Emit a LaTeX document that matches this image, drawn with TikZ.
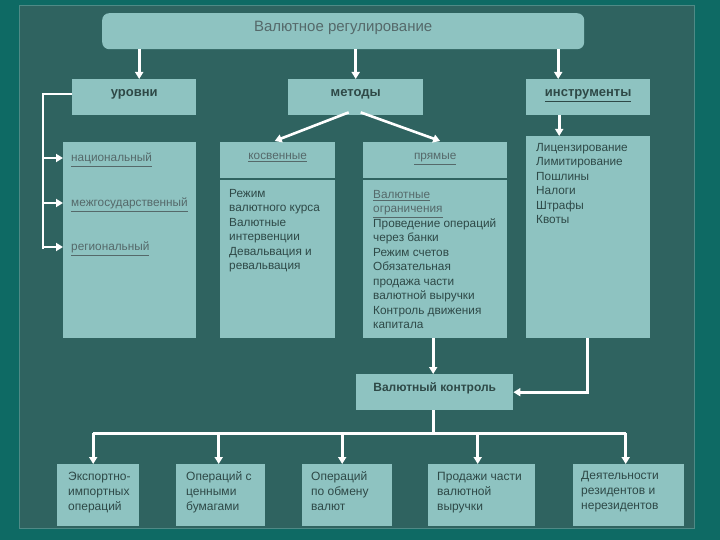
\documentclass[tikz,border=0pt]{standalone}
\usepackage{fontspec}
\setmainfont{Liberation Sans}
\usetikzlibrary{arrows.meta,calc}
\definecolor{outerc}{HTML}{0E6A64}
\definecolor{panelc}{HTML}{2F6360}
\definecolor{panelline}{HTML}{4F8A86}
\definecolor{boxc}{HTML}{8EC3C1}
\definecolor{txtc}{HTML}{2E4947}
\definecolor{linkc}{HTML}{55696A}
\begin{document}
\begin{tikzpicture}[x=1pt,y=-1pt,
  box/.style={fill=boxc, draw=none, inner sep=0pt, anchor=north west},
  arr/.style={draw=white, line width=2.6pt, -{Triangle[length=7pt,width=8pt]}},
  ln/.style={draw=white, line width=2.6pt},
  head/.style={inner sep=0pt, anchor=base, text=txtc, font=\fontsize{13}{15}\selectfont\bfseries},
  lnk/.style={inner sep=0pt, text=linkc, font=\fontsize{11.8}{14.5}\selectfont},
  body/.style={anchor=north west, inner sep=0pt, align=left, text=txtc, font=\fontsize{11.8}{14.5}\selectfont},
  bbody/.style={anchor=north west, inner sep=0pt, align=left, text=txtc, font=\fontsize{12}{15}\selectfont}]
\useasboundingbox (0,0) rectangle (720,540);
\fill[outerc] (0,0) rectangle (720,540);
\fill[panelc, draw=panelline, line width=1pt] (19,6) rectangle (694,528);

% boxes
\node[box, rounded corners=7pt, minimum width=482pt, minimum height=36pt] (top) at (102,13) {};
\node[box, minimum width=124pt, minimum height=36pt] (ur) at (72,79) {};
\node[box, minimum width=135pt, minimum height=36pt] (met) at (288,79) {};
\node[box, minimum width=124pt, minimum height=36pt] (ins) at (526,79) {};
\node[box, minimum width=133pt, minimum height=196pt] (lev) at (63,142) {};
\node[box, minimum width=115pt, minimum height=36pt] (kosH) at (220,142) {};
\node[box, minimum width=115pt, minimum height=158pt] (kosB) at (220,180) {};
\node[box, minimum width=144pt, minimum height=36pt] (prH) at (363,142) {};
\node[box, minimum width=144pt, minimum height=158pt] (prB) at (363,180) {};
\node[box, minimum width=124pt, minimum height=202pt] (insB) at (526,136) {};
\node[box, minimum width=157pt, minimum height=36pt] (vk) at (356,374) {};
\node[box, minimum width=82pt, minimum height=62pt] (b1) at (57,464) {};
\node[box, minimum width=89pt, minimum height=62pt] (b2) at (176,464) {};
\node[box, minimum width=90pt, minimum height=62pt] (b3) at (302,464) {};
\node[box, minimum width=107pt, minimum height=62pt] (b4) at (428,464) {};
\node[box, minimum width=111pt, minimum height=62pt] (b5) at (573,464) {};

% texts
\node[inner sep=0pt, anchor=base, text=linkc, font=\fontsize{15}{18}\selectfont] (t0) at ($(top.north)+(0,19)$) {Валютное регулирование};
\node[head] (tur) at ($(ur.north)+(0,18)$) {уровни};
\node[head] (tmet) at ($(met.north)+(0,18)$) {методы};
\node[head] (tins) at ($(ins.north)+(0,18)$) {\underline{инструменты}};
\node[lnk, anchor=base west] (nat) at (71,162) {\underline{национальный}};
\node[lnk, anchor=base west] (mezh) at (71,207) {\underline{межгосударственный}};
\node[lnk, anchor=base west] (reg) at (71,251) {\underline{региональный}};
\node[lnk, anchor=base] (tkos) at ($(kosH.north)+(0,18)$) {\underline{косвенные}};
\node[lnk, anchor=base] (tpr) at ($(prH.north)+(0,18)$) {\underline{прямые}};
\node[body] (tkosb) at (229,187) {\strut Режим\\валютного курса\\Валютные\\интервенции\\Девальвация и\\ревальвация};
\node[body] (tprb) at (373,188) {\strut\textcolor{linkc}{\underline{Валютные}}\\\textcolor{linkc}{\underline{ограничения}}\\Проведение операций\\через банки\\Режим счетов\\Обязательная\\продажа части\\валютной выручки\\Контроль движения\\капитала};
\node[body] (tinsb) at (536,141) {\strut Лицензирование\\Лимитирование\\Пошлины\\Налоги\\Штрафы\\Квоты};
\node[head, font=\fontsize{12}{14}\selectfont\bfseries] (tvk) at ($(vk.north)+(0,17)$) {Валютный контроль};
\node[bbody] (tb1) at (68,470) {\strut Экспортно-\\импортных\\операций};
\node[bbody] (tb2) at (186,470) {\strut Операций с\\ценными\\бумагами};
\node[bbody] (tb3) at (311,470) {\strut Операций\\по обмену\\валют};
\node[bbody] (tb4) at (437,470) {\strut Продажи части\\валютной\\выручки};
\node[bbody] (tb5) at (581,469) {\strut Деятельности\\резидентов и\\нерезидентов};

% connectors
\draw[arr] (top.south -| ur.north) ++(5,0) coordinate (a1) -- (a1 |- ur.north);
\draw[arr] (top.south -| met.north) -- (met.north);
\draw[arr] (top.south -| ins.north) ++(-30,0) coordinate (a3) -- (a3 |- ins.north);
\draw[arr] ($(ins.south)+(-29,0)$) coordinate (a4) -- (a4 |- insB.north);
\draw[arr] ($(met.south)+(-7,-3)$) -- ($(kosH.north)+(-3,-1)$);
\draw[arr] ($(met.south)+(5,-3)$) -- ($(prH.north)+(5,-1)$);
\coordinate (brk) at (43,0);
\draw[ln] (ur.west |- 0,94) -- (brk |- 0,94) -- (brk |- reg.west);
\draw[arr] (brk |- 0,158) -- (lev.west |- 0,158);
\draw[arr] (brk |- 0,203) -- (lev.west |- 0,203);
\draw[arr] (brk |- 0,247) -- (lev.west |- 0,247);
\draw[arr] ($(prB.south)+(-2,0)$) coordinate (a5) -- (a5 |- vk.north);
\draw[arr] ($(insB.south)+(-1,0)$) |- (vk.east);
\coordinate (bus) at ($(vk.south)+(-1,23)$);
\draw[ln] ($(vk.south)+(-1,0)$) -- (bus);
\draw[ln] ([xshift=-5pt]b1.north |- bus) -- ([xshift=-3pt]b5.north |- bus);
\draw[arr] ([xshift=-5pt]b1.north |- bus) -- ([xshift=-5pt]b1.north);
\draw[arr] ([xshift=-2pt]b2.north |- bus) -- ([xshift=-2pt]b2.north);
\draw[arr] ([xshift=-5pt]b3.north |- bus) -- ([xshift=-5pt]b3.north);
\draw[arr] ([xshift=-4pt]b4.north |- bus) -- ([xshift=-4pt]b4.north);
\draw[arr] ([xshift=-3pt]b5.north |- bus) -- ([xshift=-3pt]b5.north);
\end{tikzpicture}
\end{document}
